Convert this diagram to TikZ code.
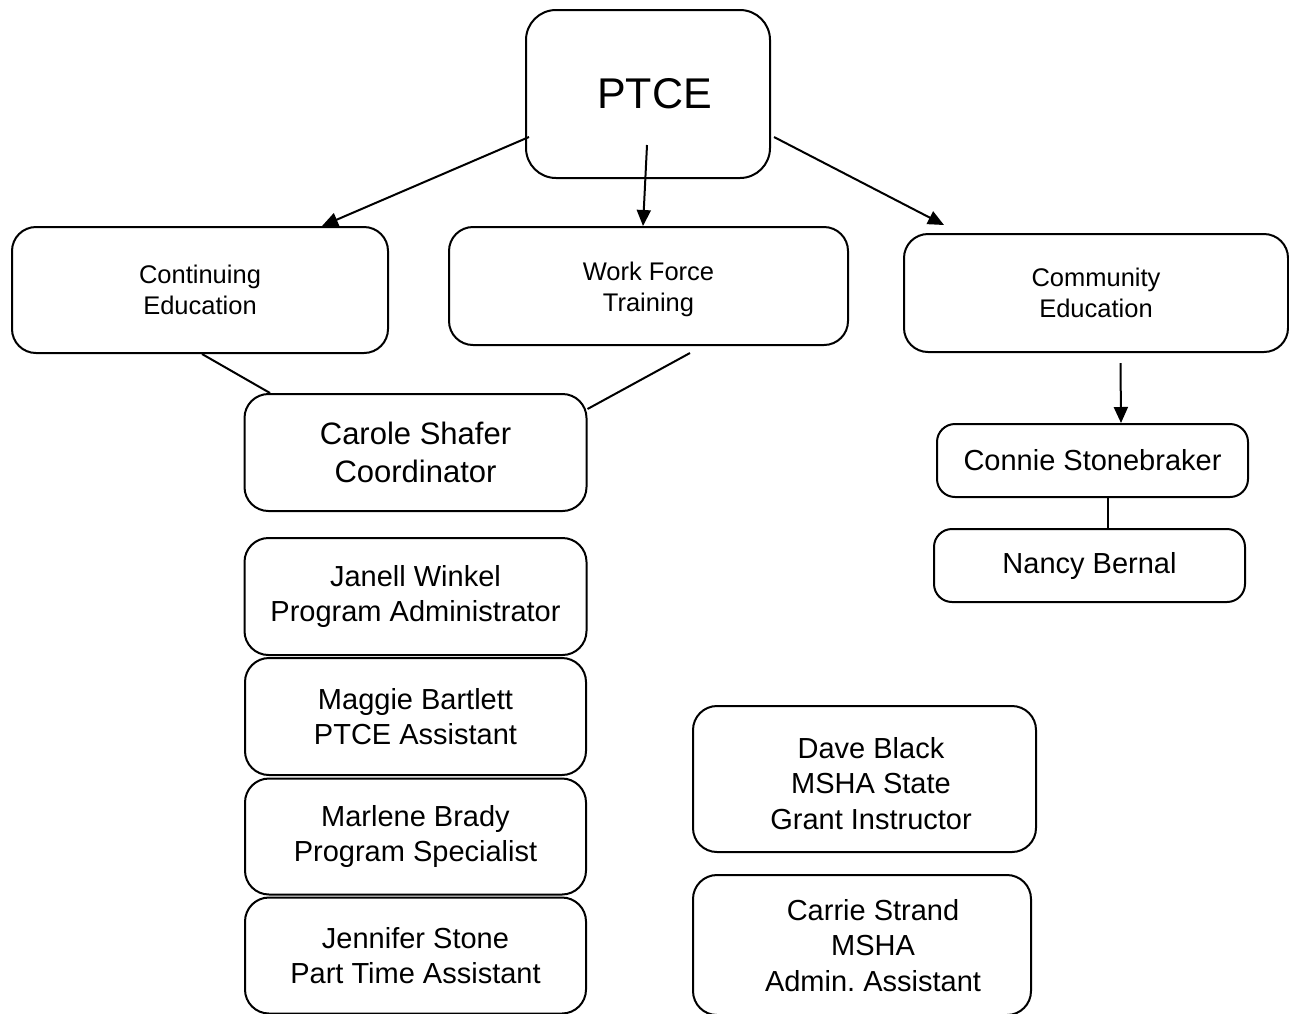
\documentclass[tikz,border=0pt]{standalone}
\usepackage{fontspec}
\setmainfont{Liberation Sans}
\usetikzlibrary{arrows.meta,positioning}

\tikzset{
    box/.style={draw, line width=2pt, rounded corners=24pt, align=center, inner sep=0pt},
    unit/.style={box, font=\fontsize{25.5}{31}\selectfont},
    person/.style={box, minimum width=342pt, minimum height=117pt, font=\fontsize{29}{35}\selectfont},
    msha/.style={person, label={[align=center,font=\fontsize{29}{35.5}\selectfont,#1]center:}},
    link/.style={line width=2pt},
    arr/.style={link, -{Triangle[length=16pt,width=14pt]}}
}

\begin{document}
\frenchspacing
\begin{tikzpicture}[x=1pt,y=-1pt,on grid]
    \useasboundingbox (0,0) rectangle (1289,1013);

    % top
    \node[box,minimum width=244pt,minimum height=168pt,rounded corners=30pt,
          font=\fontsize{43}{50}\selectfont] (ptce) at (648,94) {\hspace*{13pt}PTCE};

    % departments
    \node[unit,minimum width=376pt,minimum height=126pt] (cont_ed) at (200,290) {Continuing\\Education};
    \node[unit,minimum width=399pt,minimum height=118pt] (wf_train) at (648.5,286) {\\[-6pt]Work Force\\Training};
    \node[unit,minimum width=384pt,minimum height=118pt] (comm_ed) at (1096,293) {Community\\Education};

    % coordinator and staff
    \node[person,font=\fontsize{31}{38}\selectfont] (carole) at (415.5,452.5) {Carole Shafer\\Coordinator};
    \node[person] (janell) [below=144pt of carole] {Janell Winkel\\Program Administrator};
    \node[person,minimum width=341pt] (maggie) [below=120pt of janell] {Maggie Bartlett\\PTCE Assistant};
    \node[person,minimum width=341pt,minimum height=116pt] (marlene) [below=120pt of maggie] {Marlene Brady\\Program Specialist};
    \node[person,minimum width=341pt,minimum height=116pt] (jennifer) [below=119pt of marlene] {Jennifer Stone\\Part Time Assistant};

    % community education staff
    \node[person,minimum width=311pt,minimum height=73pt,rounded corners=18pt] (connie) at (1092.5,460.5) {Connie Stonebraker};
    \node[person,minimum width=311pt,minimum height=73pt,rounded corners=18pt] (nancy) [below=105pt of connie,xshift=-3pt] {Nancy Bernal};

    % MSHA
    \node[person,minimum width=343pt,minimum height=146pt,
          label={[align=center,font=\fontsize{29}{35.5}\selectfont,shift={(6.5,4.5)}]center:Dave Black\\MSHA State\\Grant Instructor}] (dave) at (864.5,779) {};
    \node[person,minimum width=338pt,minimum height=140pt,
          label={[align=center,font=\fontsize{29}{35.5}\selectfont,shift={(11,0.5)}]center:Carrie Strand\\MSHA\\Admin. Assistant}] (carrie) at (862,945) {};

    \path[arr]
    ([shift={(4,43)}]ptce.west) edge ([xshift=122pt]cont_ed.north)
    ([shift={(-1,51)}]ptce.center) edge ([xshift=-5.5pt]wf_train.north)
    ([shift={(3,43)}]ptce.east) edge ([shift={(-152,-8)}]comm_ed.north)
    ([shift={(24.5,10)}]comm_ed.south) edge ([xshift=28.5pt]connie.north);

    \path[link]
    ([xshift=2pt]cont_ed.south) edge ([xshift=-145.5pt]carole.north)
    ([shift={(41.5,7)}]wf_train.south) edge ([yshift=43.5pt]carole.east)
    ([xshift=15.5pt]connie.south) edge ([xshift=18.5pt]nancy.north);

\end{tikzpicture}
\end{document}
